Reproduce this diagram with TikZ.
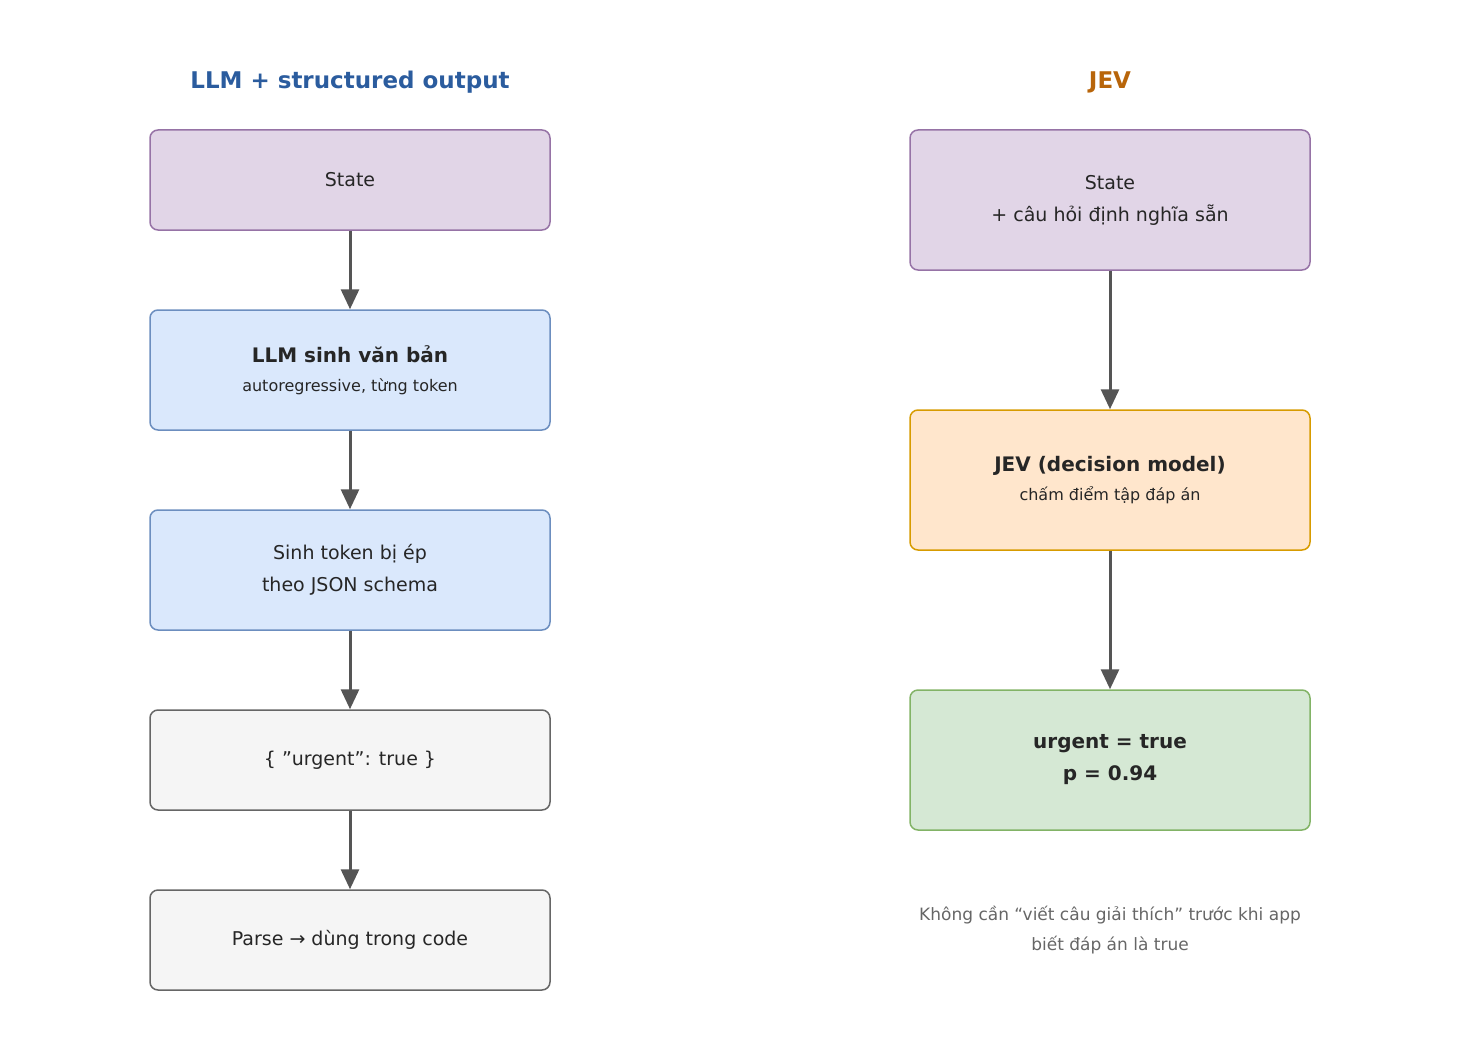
\documentclass[tikz,border=0pt]{standalone}
\usepackage{fontspec}
\setmainfont{DejaVu Sans}
\usetikzlibrary{arrows.meta}
\definecolor{pf}{HTML}{E1D5E7}\definecolor{ps}{HTML}{9673A6}
\definecolor{bf}{HTML}{DAE8FC}\definecolor{bs}{HTML}{6C8EBF}
\definecolor{gf}{HTML}{F5F5F5}\definecolor{gs}{HTML}{666666}
\definecolor{of}{HTML}{FFE6CC}\definecolor{os}{HTML}{D79B00}
\definecolor{nf}{HTML}{D5E8D4}\definecolor{ns}{HTML}{82B366}
\definecolor{tb}{HTML}{2B5C9E}\definecolor{to}{HTML}{B8650A}
\definecolor{ar}{HTML}{555555}
\begin{document}
\begin{tikzpicture}[x=1pt,y=-1pt,
 box/.style={draw,line width=1.5pt,rounded corners=8pt,minimum width=400pt,align=center,font=\fontsize{19}{32}\selectfont,text=black!85},
 arr/.style={-{Triangle[length=20pt,width=18pt]},line width=3pt,draw=ar},
 sub/.style={}]
\useasboundingbox (0,0) rectangle (1458,1038);
\node[font=\fontsize{23}{28}\selectfont\bfseries,text=tb] (t1) at (350,82) {LLM + structured output};
\node[font=\fontsize{23}{28}\selectfont\bfseries,text=to] (t2) at (1110,82) {JEV};
\node[box,fill=pf,draw=ps,minimum height=100pt] (a1) at (350,180) {State};
\node[box,fill=bf,draw=bs,minimum height=120pt] (a2) at (350,370) {{\bfseries\fontsize{20}{32}\selectfont LLM sinh văn bản}\\[-3pt]{\fontsize{16}{20}\selectfont autoregressive, từng token}};
\node[box,fill=bf,draw=bs,minimum height=120pt] (a3) at (350,570) {Sinh token bị ép\\theo JSON schema};
\node[box,fill=gf,draw=gs,minimum height=100pt] (a4) at (350,760) {\{ "urgent": true \}};
\node[box,fill=gf,draw=gs,minimum height=100pt] (a5) at (350,940) {Parse → dùng trong code};
\node[box,fill=pf,draw=ps,minimum height=140pt] (b1) at (1110,200) {State\\+ câu hỏi định nghĩa sẵn};
\node[box,fill=of,draw=os,minimum height=140pt] (b2) at (1110,480) {{\bfseries\fontsize{20}{32}\selectfont JEV (decision model)}\\[-3pt]{\fontsize{16}{20}\selectfont chấm điểm tập đáp án}};
\node[box,fill=nf,draw=ns,minimum height=140pt,font=\fontsize{20}{32}\selectfont\bfseries] (b3) at (1110,760) {urgent = true\\p = 0.94};
\node[align=center,text=gs,font=\fontsize{17}{30}\selectfont] (n) at (1110,930) {Không cần “viết câu giải thích” trước khi app\\biết đáp án là true};
\draw[arr] (a1)--(a2); \draw[arr] (a2)--(a3); \draw[arr] (a3)--(a4); \draw[arr] (a4)--(a5);
\draw[arr] (b1)--(b2); \draw[arr] (b2)--(b3);
\end{tikzpicture}
\end{document}
